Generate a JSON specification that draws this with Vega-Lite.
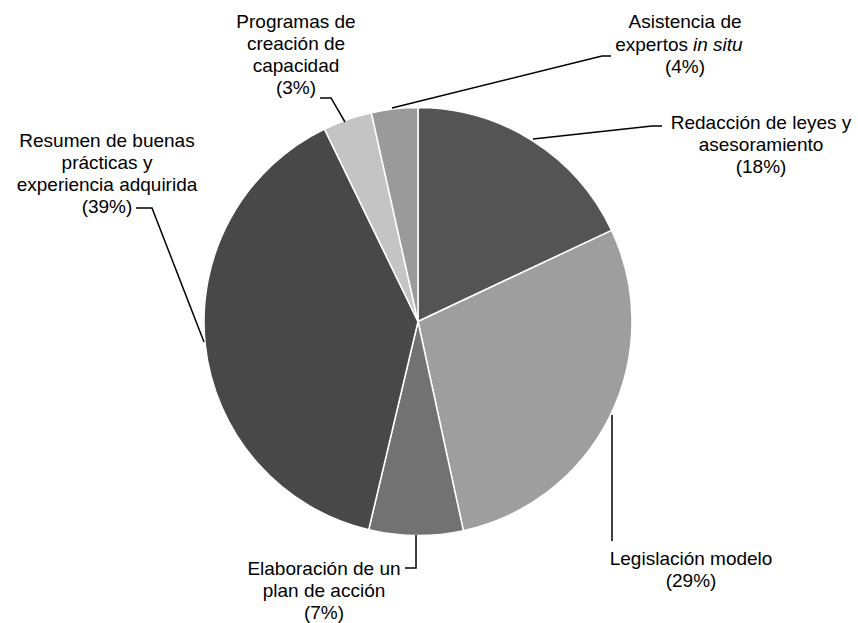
{
  "$schema": "https://vega.github.io/schema/vega-lite/v6.json",
  "width": 858,
  "height": 623,
  "padding": 0,
  "autosize": {"type": "fit", "contains": "padding"},
  "background": "white",
  "config": {"view": {"stroke": null}, "text": {"font": "Liberation Sans", "fontSize": 19, "color": "#000000"}},
  "datasets": {
    "slices": [
      {"category": "Redacción de leyes y asesoramiento", "value": 18, "order": 1},
      {"category": "Legislación modelo", "value": 28.6, "order": 2},
      {"category": "Elaboración de un plan de acción", "value": 7.1, "order": 3},
      {"category": "Resumen de buenas prácticas y experiencia adquirida", "value": 39.1, "order": 4},
      {"category": "Programas de creación de capacidad", "value": 3.7, "order": 5},
      {"category": "Asistencia de expertos in situ", "value": 3.5, "order": 6}
    ],
    "labels": [
      {"text": "Redacción de leyes y\nasesoramiento\n(18%)", "lx": 1.603, "ly": 0.8995},
      {"text": "Legislación modelo\n(29%)", "lx": 1.276, "ly": -1.1379},
      {"text": "Elaboración de un\nplan de acción\n(7%)", "lx": -0.4393, "ly": -1.1846},
      {"text": "Resumen de buenas\nprácticas y\nexperiencia adquirida\n(39%)", "lx": -1.4533, "ly": 0.8154},
      {"text": "Programas de\ncreación de\ncapacidad\n(3%)", "lx": -0.5701, "ly": 1.3715},
      {"text": "Asistencia de", "lx": 1.2477, "ly": 1.3715},
      {"text": "(4%)", "lx": 1.2477, "ly": 1.1612}
    ],
    "leaders": [
      {"seg": "Asistencia", "i": 1, "lx": 0.9019, "ly": 1.2407},
      {"seg": "Asistencia", "i": 2, "lx": 0.8598, "ly": 1.2407},
      {"seg": "Asistencia", "i": 3, "lx": -0.1215, "ly": 0.9977},
      {"seg": "Redaccion", "i": 1, "lx": 1.1402, "ly": 0.9136},
      {"seg": "Redaccion", "i": 2, "lx": 1.0935, "ly": 0.9136},
      {"seg": "Redaccion", "i": 3, "lx": 0.5374, "ly": 0.8528},
      {"seg": "Legislacion", "i": 1, "lx": 0.9065, "ly": -0.4369},
      {"seg": "Legislacion", "i": 2, "lx": 0.9065, "ly": -1.0257},
      {"seg": "Elaboracion", "i": 1, "lx": -0.0607, "ly": -1.1519},
      {"seg": "Elaboracion", "i": 2, "lx": -0.0093, "ly": -1.1519},
      {"seg": "Elaboracion", "i": 3, "lx": -0.0093, "ly": -0.9977},
      {"seg": "Resumen", "i": 1, "lx": -1.3178, "ly": 0.5304},
      {"seg": "Resumen", "i": 2, "lx": -1.243, "ly": 0.5304},
      {"seg": "Resumen", "i": 3, "lx": -1.0, "ly": -0.0958},
      {"seg": "Programas", "i": 1, "lx": -0.4579, "ly": 1.0444},
      {"seg": "Programas", "i": 2, "lx": -0.4065, "ly": 1.0444},
      {"seg": "Programas", "i": 3, "lx": -0.3411, "ly": 0.9322}
    ]
  },
  "layer": [
    {
      "data": {"name": "slices"},
      "mark": {"type": "arc", "outerRadius": 214, "stroke": "#ffffff", "strokeWidth": 1.5},
      "encoding": {
        "x": {"datum": 0, "type": "quantitative", "scale": {"domain": [-1.9533, 2.0561], "nice": false, "zero": false}, "axis": null},
        "y": {"datum": 0, "type": "quantitative", "scale": {"domain": [-1.4089, 1.5023], "nice": false, "zero": false}, "axis": null},
        "theta": {"field": "value", "type": "quantitative", "stack": true},
        "order": {"field": "order", "type": "quantitative"},
        "color": {
          "field": "category", "type": "nominal", "legend": null,
          "scale": {
            "domain": ["Redacción de leyes y asesoramiento", "Legislación modelo", "Elaboración de un plan de acción", "Resumen de buenas prácticas y experiencia adquirida", "Programas de creación de capacidad", "Asistencia de expertos in situ"],
            "range": ["#545454", "#9e9e9e", "#727272", "#484848", "#c4c4c4", "#9a9a9a"]
          }
        }
      }
    },
    {
      "data": {"name": "leaders"},
      "mark": {"type": "line", "color": "#000000", "strokeWidth": 1.5},
      "encoding": {
        "x": {"field": "lx", "type": "quantitative", "scale": {"domain": [-1.9533, 2.0561], "nice": false, "zero": false}, "axis": null},
        "y": {"field": "ly", "type": "quantitative", "scale": {"domain": [-1.4089, 1.5023], "nice": false, "zero": false}, "axis": null},
        "detail": {"field": "seg", "type": "nominal"},
        "order": {"field": "i", "type": "quantitative"}
      }
    },
    {
      "data": {"name": "labels"},
      "mark": {"type": "text", "align": "center", "baseline": "alphabetic", "lineBreak": "\n", "lineHeight": 22},
      "encoding": {
        "x": {"field": "lx", "type": "quantitative", "scale": {"domain": [-1.9533, 2.0561], "nice": false, "zero": false}, "axis": null},
        "y": {"field": "ly", "type": "quantitative", "scale": {"domain": [-1.4089, 1.5023], "nice": false, "zero": false}, "axis": null},
        "text": {"field": "text", "type": "nominal"}
      }
    },
    {
      "data": {"values": [{"text": "expertos", "lx": 1.2617, "ly": 1.264}]},
      "mark": {"type": "text", "align": "right", "baseline": "alphabetic"},
      "encoding": {
        "x": {"field": "lx", "type": "quantitative", "scale": {"domain": [-1.9533, 2.0561], "nice": false, "zero": false}, "axis": null},
        "y": {"field": "ly", "type": "quantitative", "scale": {"domain": [-1.4089, 1.5023], "nice": false, "zero": false}, "axis": null},
        "text": {"field": "text", "type": "nominal"}
      }
    },
    {
      "data": {"values": [{"text": "in situ", "lx": 1.285, "ly": 1.264}]},
      "mark": {"type": "text", "align": "left", "baseline": "alphabetic", "fontStyle": "italic"},
      "encoding": {
        "x": {"field": "lx", "type": "quantitative", "scale": {"domain": [-1.9533, 2.0561], "nice": false, "zero": false}, "axis": null},
        "y": {"field": "ly", "type": "quantitative", "scale": {"domain": [-1.4089, 1.5023], "nice": false, "zero": false}, "axis": null},
        "text": {"field": "text", "type": "nominal"}
      }
    }
  ]
}
